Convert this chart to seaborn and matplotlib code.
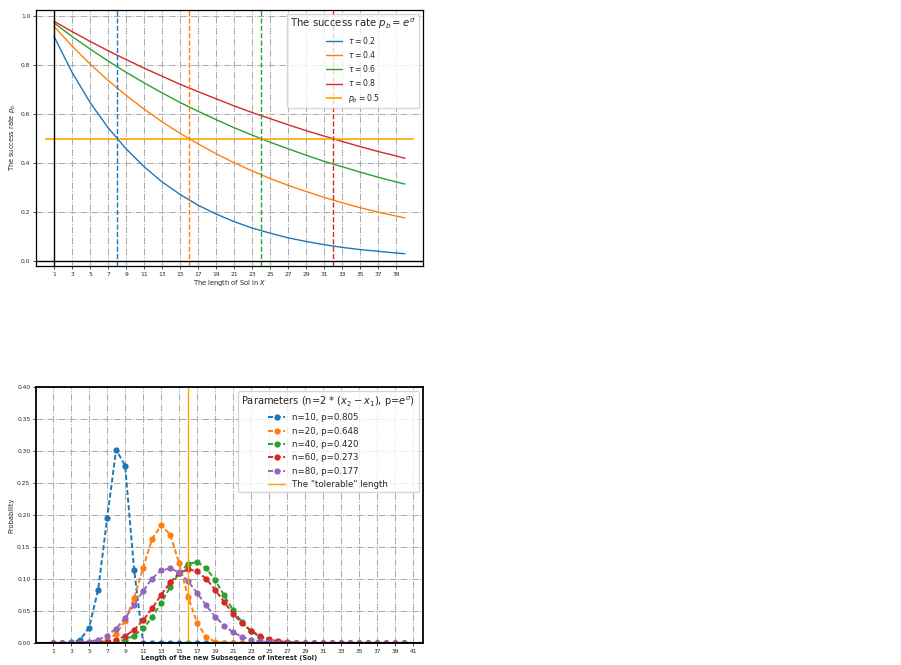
import matplotlib
matplotlib.use("Agg")
import matplotlib.pyplot as plt
import seaborn as sns

# ---------- top panel: success rate p_b vs length of SoI ----------
sol_len = [1, 3, 5, 7, 9, 11, 13, 15, 17, 19, 21, 23, 25, 27, 29, 31, 33, 35, 37, 39, 40]
rate_tau02 = [0.917, 0.771, 0.648, 0.545, 0.459, 0.386, 0.324, 0.273, 0.229, 0.193, 0.162,
              0.136, 0.115, 0.096, 0.081, 0.068, 0.057, 0.048, 0.041, 0.034, 0.031]
rate_tau04 = [0.958, 0.878, 0.805, 0.738, 0.677, 0.621, 0.569, 0.522, 0.479, 0.439, 0.402,
              0.369, 0.338, 0.310, 0.285, 0.261, 0.239, 0.219, 0.201, 0.185, 0.177]
rate_tau06 = [0.972, 0.917, 0.866, 0.817, 0.771, 0.728, 0.687, 0.648, 0.612, 0.578, 0.545,
              0.515, 0.486, 0.459, 0.433, 0.408, 0.386, 0.364, 0.343, 0.324, 0.315]
rate_tau08 = [0.979, 0.937, 0.897, 0.859, 0.823, 0.788, 0.755, 0.722, 0.692, 0.663, 0.634,
              0.607, 0.582, 0.557, 0.533, 0.511, 0.489, 0.468, 0.448, 0.430, 0.420]
tau_labels = ["0.2", "0.4", "0.6", "0.8"]
cross_len = [8, 16, 24, 32]
pb_level = 0.5
pb_span = [0, 41]
top_xticks = [1, 3, 5, 7, 9, 11, 13, 15, 17, 19, 21, 23, 25, 27, 29, 31, 33, 35, 37, 39]

# ---------- bottom panel: distribution of the new SoI length ----------
length = list(range(1, 41))
prob_n10 = [0.000, 0.000, 0.001, 0.005, 0.024, 0.083, 0.195, 0.302, 0.277, 0.114,
            0.000, 0.000, 0.000, 0.000, 0.000, 0.000, 0.000, 0.000, 0.000, 0.000,
            0.000, 0.000, 0.000, 0.000, 0.000, 0.000, 0.000, 0.000, 0.000, 0.000,
            0.000, 0.000, 0.000, 0.000, 0.000, 0.000, 0.000, 0.000, 0.000, 0.000]
prob_n20 = [0.000, 0.000, 0.000, 0.000, 0.0003, 0.0013, 0.0047, 0.0142, 0.0347, 0.0703,
            0.1177, 0.1625, 0.1841, 0.1694, 0.1248, 0.0718, 0.0311, 0.0095, 0.0019, 0.0002,
            0.000, 0.000, 0.000, 0.000, 0.000, 0.000, 0.000, 0.000, 0.000, 0.000,
            0.000, 0.000, 0.000, 0.000, 0.000, 0.000, 0.000, 0.000, 0.000, 0.000]
prob_n40 = [0.000, 0.000, 0.000, 0.000, 0.000, 0.0002, 0.0007, 0.0020, 0.0052, 0.0116,
            0.0229, 0.0400, 0.0624, 0.0871, 0.1094, 0.1237, 0.1265, 0.1171, 0.0982, 0.0746,
            0.0515, 0.0322, 0.0182, 0.0094, 0.0043, 0.0018, 0.0007, 0.0002, 0.0001, 0.000,
            0.000, 0.000, 0.000, 0.000, 0.000, 0.000, 0.000, 0.000, 0.000, 0.000]
prob_n60 = [0.000, 0.000, 0.000, 0.0001, 0.0002, 0.0007, 0.0020, 0.0050, 0.0108, 0.0207,
            0.0353, 0.0541, 0.0751, 0.0946, 0.1090, 0.1151, 0.1119, 0.1004, 0.0833, 0.0641,
            0.0459, 0.0305, 0.0189, 0.0110, 0.0059, 0.0030, 0.0014, 0.0006, 0.0003, 0.0001,
            0.000, 0.000, 0.000, 0.000, 0.000, 0.000, 0.000, 0.000, 0.000, 0.000]
prob_n80 = [0.000, 0.000, 0.0001, 0.0006, 0.0019, 0.0051, 0.0115, 0.0226, 0.0390, 0.0595,
            0.0814, 0.1007, 0.1133, 0.1166, 0.1103, 0.0964, 0.0781, 0.0588, 0.0412, 0.0271,
            0.0166, 0.0096, 0.0052, 0.0027, 0.0013, 0.0006, 0.0003, 0.0001, 0.000, 0.000,
            0.000, 0.000, 0.000, 0.000, 0.000, 0.000, 0.000, 0.000, 0.000, 0.000]
param_labels = ["n=10, p=0.805", "n=20, p=0.648", "n=40, p=0.420",
                "n=60, p=0.273", "n=80, p=0.177"]
tolerable_len = 16
bottom_xticks = list(range(1, 42, 2))

sns.set_theme(style="ticks", palette="tab10")
plt.rcParams["font.family"] = ["DejaVu Sans"]
plt.rcParams["axes.edgecolor"] = "black"

colors = sns.color_palette("tab10")
grid_kw = dict(linestyle="-.", color="0.68", linewidth=0.75)

fig = plt.figure(figsize=(9.01, 6.65), dpi=100)
ax1 = fig.add_axes([0.040, 0.600, 0.4295, 0.385])
ax2 = fig.add_axes([0.040, 0.0331, 0.4295, 0.385])

# top panel
ax1.grid(True, **grid_kw)
ax1.set_axisbelow(True)
for tau, rate, c in zip(tau_labels, [rate_tau02, rate_tau04, rate_tau06, rate_tau08], colors):
    sns.lineplot(x=sol_len, y=rate, color=c, linewidth=1.0, label=rf"$\tau = {tau}$", ax=ax1)
ax1.hlines(pb_level, pb_span[0], pb_span[1], color="orange", linewidth=1.2, label=r"$p_b = 0.5$")
for xc, c in zip(cross_len, colors):
    ax1.axvline(xc, color=c, linestyle="--", linewidth=1.0)
ax1.axvline(sol_len[0], color="black", linewidth=1.0)
ax1.axhline(0, color="black", linewidth=1.0)
ax1.set_xlim(-1, 42)
ax1.set_ylim(-0.019, 1.025)
ax1.set_xticks(top_xticks)
ax1.set_xlabel(r"The length of SoI in $X$", fontsize=4.8, labelpad=1)
ax1.set_ylabel(r"The success rate $p_b$", fontsize=4.8, labelpad=2)
ax1.tick_params(labelsize=4.3, length=2, width=0.6, pad=2)
for s in ax1.spines.values():
    s.set_linewidth(0.9)
ax1.legend(title=r"The success rate $p_b = e^\sigma$", loc="upper right",
           fontsize=5.6, title_fontsize=7.3, labelspacing=0.42, framealpha=0.8)

# bottom panel
ax2.grid(True, **grid_kw)
ax2.set_axisbelow(True)
for lbl, prob, c in zip(param_labels, [prob_n10, prob_n20, prob_n40, prob_n60, prob_n80], colors):
    sns.lineplot(x=length, y=prob, color=c, linewidth=1.4, marker="o",
                 markersize=4.5, markeredgecolor=c, markeredgewidth=0, label=lbl, ax=ax2)
    ax2.lines[-1].set_dashes((2.6, 1.3))
ax2.axvline(tolerable_len, color="orange", linewidth=1.0, label='The "tolerable" length')
ax2.axhline(0, color="black", linewidth=1.5)
ax2.set_xlim(-0.9, 42.1)
ax2.set_ylim(0, 0.4)
ax2.set_xticks(bottom_xticks)
ax2.set_xlabel("Length of the new Subseqence of Interest (SoI)", fontsize=4.8,
               fontweight="bold", labelpad=1)
ax2.set_ylabel("Probability", fontsize=4.8, labelpad=2)
ax2.tick_params(labelsize=4.3, length=2, width=0.6, pad=2)
for s in ax2.spines.values():
    s.set_linewidth(1.3)
ax2.legend(title=r"Parameters (n=2 * $(x_2 - x_1)$, p=$e^\sigma$)", loc="upper right",
           fontsize=6.2, title_fontsize=7.1, framealpha=0.8)

fig.savefig("out.png", dpi=100)
